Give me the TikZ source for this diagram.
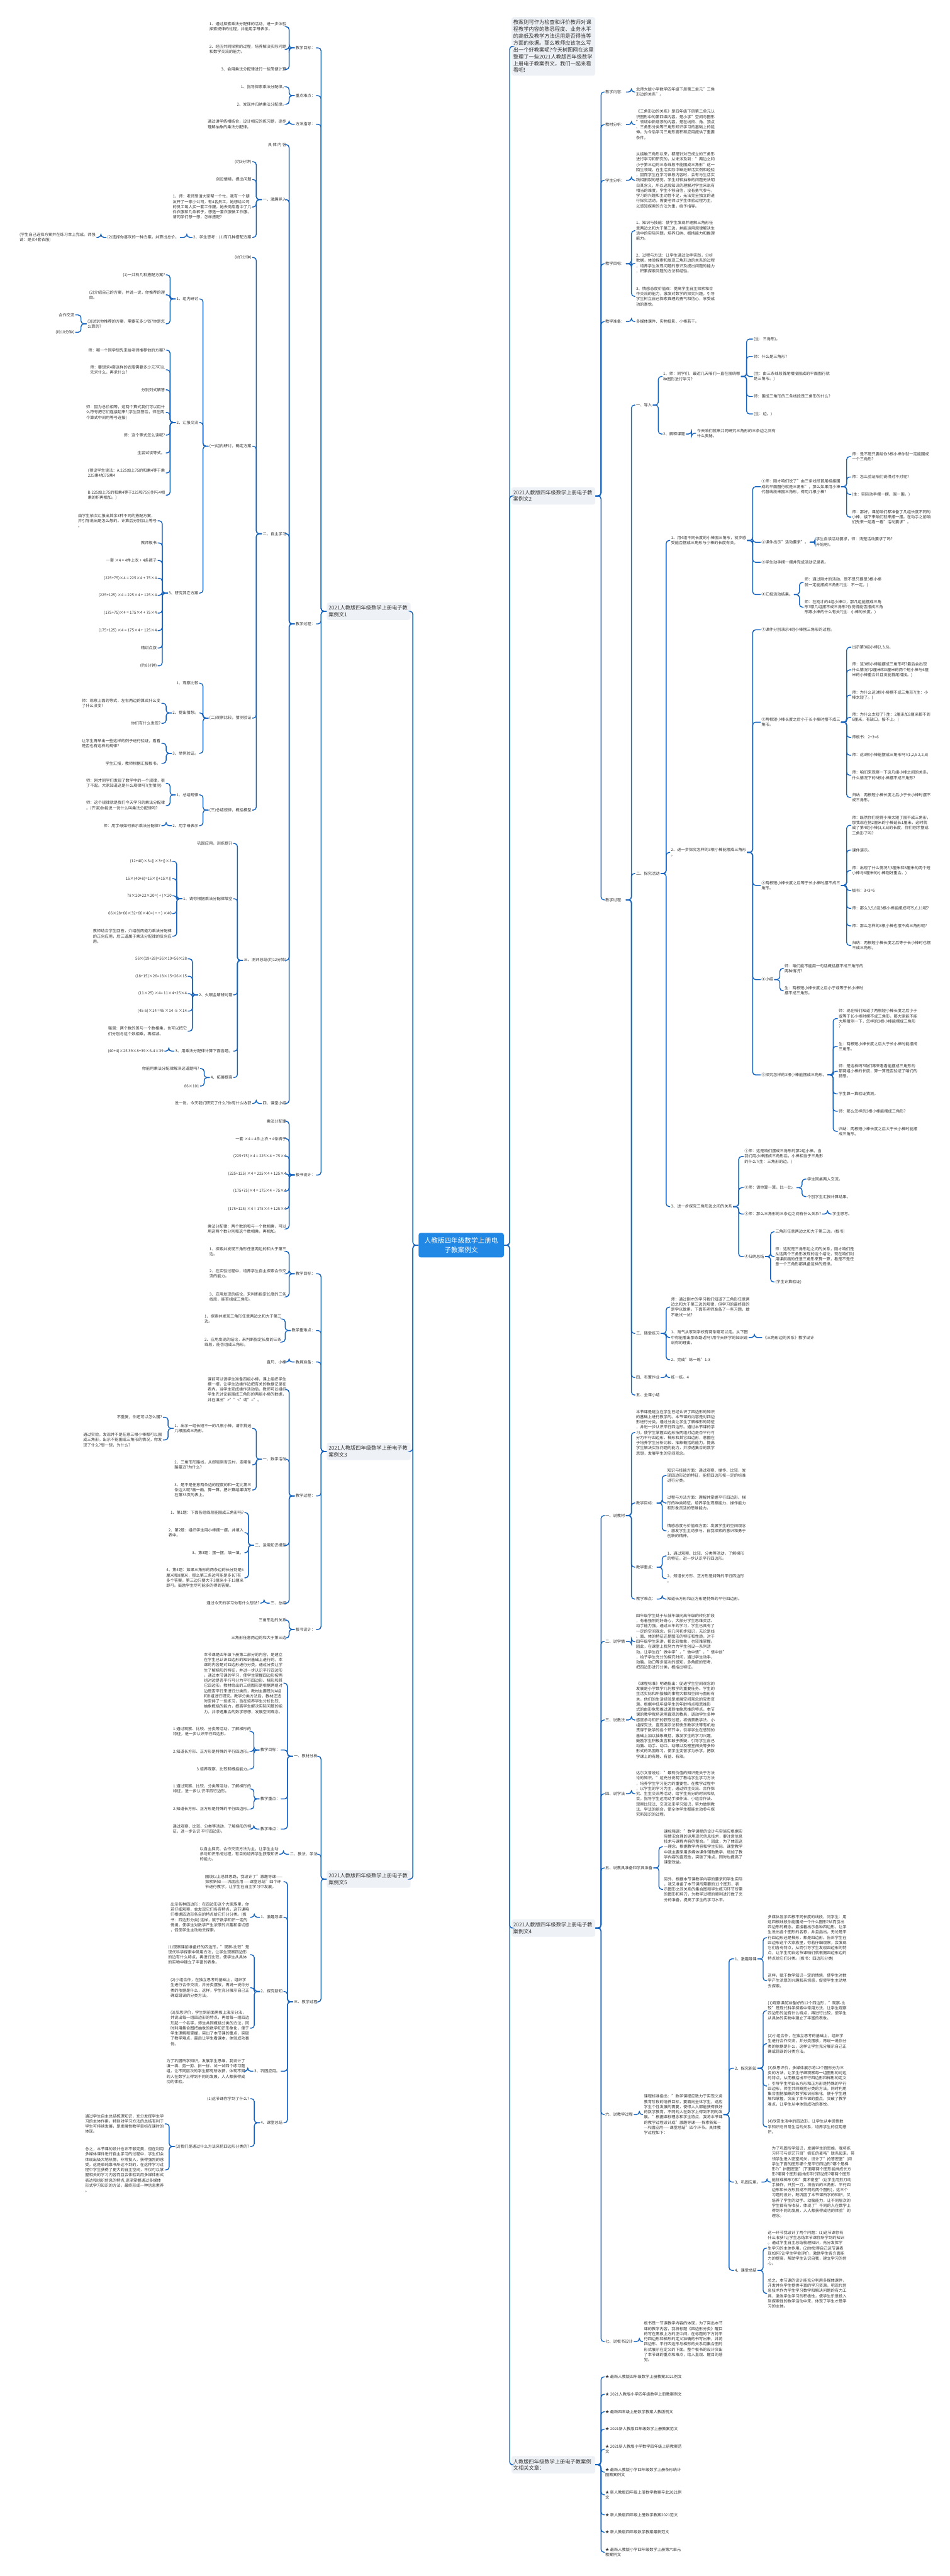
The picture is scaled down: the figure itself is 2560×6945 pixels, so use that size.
\documentclass[tikz,border=0pt]{standalone}
\usepackage{fontspec}
\setmainfont{Noto Sans CJK SC}
\definecolor{lnkc}{RGB}{22,100,190}
\definecolor{txt}{RGB}{51,51,51}
\definecolor{topicbg}{RGB}{238,241,245}
\definecolor{rootbg}{RGB}{33,136,230}
\begin{document}
\begin{tikzpicture}[x=0.5pt,y=-0.5pt,
 leaf/.style={font=\fontsize{5.3}{7}\selectfont,text=txt,inner sep=1pt,align=left},
 lt/.style={leaf,anchor=east},
 rt/.style={leaf,anchor=west},
 topic/.style={fill=topicbg,rounded corners=3pt,text=txt,font=\fontsize{7}{8.9}\selectfont,align=left,text width=108pt,inner xsep=2.5pt,inner ysep=4pt},
 root/.style={fill=rootbg,rounded corners=3pt,text=white,font=\fontsize{9}{12}\selectfont,align=center,minimum width=115pt,minimum height=33pt},
 lnk/.style={draw=lnkc,line width=1.2pt,rounded corners=4pt},
 ll/.style={lnk,to path={-- ++(-15,0) |- (\tikztotarget)}},
 rl/.style={lnk,to path={-- ++(15,0) |- (\tikztotarget)}}]
\fill[white] (0,0) rectangle (2560,6945);
\useasboundingbox (0,0) rectangle (2560,6945);
\node[root] (root) at (1243,3357) {人教版四年级数学上册电\\子教案例文};
\node[topic,anchor=west,font=\fontsize{7}{9.2}\selectfont] (intro) at (1378,125) {教案则可作为检查和评价教师对课\\程教学内容的熟悉程度、业务水平\\的高低及教学方法运用是否得当等\\方面的依据。那么教师应该怎么写\\出一个好教案呢?今天树图网在这里\\整理了一些2021人教版四年级数学\\上册电子教案例文，我们一起来看\\看吧!};
\node[topic,anchor=east] (L1) at (1107,1648) {2021人教版四年级数学上册电子教\\案例文1};
\node[topic,anchor=west] (R2) at (1378,1337) {2021人教版四年级数学上册电子教\\案例文2};
\node[topic,anchor=east] (L3) at (1107,3913) {2021人教版四年级数学上册电子教\\案例文3};
\node[topic,anchor=west] (R4) at (1378,5198) {2021人教版四年级数学上册电子教\\案例文4};
\node[topic,anchor=east] (L5) at (1107,5066) {2021人教版四年级数学上册电子教\\案例文5};
\node[topic,anchor=west] (R6) at (1378,6645) {人教版四年级数学上册电子教案例\\文相关文章：};
\draw[ll] (root.west) to (L1.east);
\draw[ll] (root.west) to (L3.east);
\draw[ll] (root.west) to (L5.east);
\draw[rl] (root.east) to (intro.west);
\draw[rl] (root.east) to (R2.west);
\draw[rl] (root.east) to (R4.west);
\draw[rl] (root.east) to (R6.west);

\node[lt] (L1a) at (852,129) {教学目标：};
\node[lt] (L1a1) at (774,72) {1、通过探索乘法分配律的活动，进一步体验\\探索规律的过程，并能用字母表示。};
\node[lt] (L1a2) at (774,133) {2、经历共同探索的过程，培养解决实际问题\\和数学交流的能力。};
\node[lt] (L1a3) at (774,187) {3、会用乘法分配律进行一些简便计算};
\node[lt] (L1b) at (852,258) {重点难点：};
\node[lt] (L1b1) at (774,234) {1、指导探索乘法分配律。};
\node[lt] (L1b2) at (774,281) {2、发现并归纳乘法分配律。};
\node[lt] (L1c) at (852,335) {方法指导：};
\node[lt] (L1c1) at (774,335) {通过讲学练相结合，设计相应的练习题，逐步\\理解抽象的乘法分配律。};
\node[lt] (L1d) at (852,1682) {教学过程：};
\node[lt] (L1d0) at (774,390) {具 体 内 容};
\node[lt] (L1d1) at (774,538) {一、激趣导入};
\node[lt] (L1d1a) at (680,436) {(约3分钟)};
\node[lt] (L1d1b) at (680,484) {创设情境，提出问题};
\node[lt] (L1d1c) at (680,558) {1、师：老师想请大家帮一个忙，我有一个朋\\友开了一家小公司，有4名员工，她想给公司\\的员工每人买一套工作服。她去商店看中了几\\件衣服和几条裤子，想选一套衣服做工作服。\\请同学们想一想，怎样搭配?};
\node[lt] (L1d1d) at (680,640) {2、学生思考：(1)有几种搭配方案};
\node[lt] (L1d1e) at (485,640) {(2)选择你喜欢的一种方案，并算出总价。};
\node[lt] (L1d1f) at (260,640) {(学生自己选择方案并在练习本上完成。师强\\调：是买4套衣服)};
\node[lt] (L1d2) at (774,1439) {二、自主学习};
\node[lt] (L1d2a) at (680,694) {(约7分钟)};
\node[lt] (L1d2b) at (680,1203) {(一)组内研讨，确定方案};
\node[lt] (L1d2b1) at (537,806) {1、组内研讨};
\node[lt] (L1d2b1a) at (447,741) {(1)一共有几种搭配方案?};
\node[lt] (L1d2b1b) at (447,795) {(2)介绍自己的方案，并说一说，你推荐的理\\由。};
\node[lt] (L1d2b1c) at (447,873) {(3)说说你推荐的方案，需要花多少钱?你是怎\\么算的?};
\node[lt] (L1d2b1c1) at (203,849) {合作交流};
\node[lt] (L1d2b1c2) at (203,896) {(约10分钟)};
\node[lt] (L1d2b2) at (537,1139) {2、汇报交流};
\node[lt] (L1d2b2a) at (447,944) {师：哪一个同学想先来给老师推荐他的方案?};
\node[lt] (L1d2b2b) at (447,997) {师：要想求4套这样的衣服需要多少元?可以\\先求什么，再求什么?};
\node[lt] (L1d2b2c) at (447,1051) {分别列式解答};
\node[lt] (L1d2b2d) at (447,1112) {师：因为总价相等，这两个算式我们可以用什\\么符号把它们连接起来?(学生回答后，师在两\\个算式中间用等号连接)};
\node[lt] (L1d2b2e) at (447,1173) {师：这个等式怎么读呢?};
\node[lt] (L1d2b2f) at (447,1221) {生尝试读等式。};
\node[lt] (L1d2b2g) at (447,1275) {(预设学生读法：A.225加上75的和乘4等于乘\\225乘4加75乘4};
\node[lt] (L1d2b2h) at (447,1335) {B.225加上75的和乘4等于225和75分别与4相\\乘的积再相加。)};
\node[lt] (L1d2b3) at (537,1599) {3、研究其它方案};
\node[lt] (L1d2b3a) at (425,1404) {由学生依次汇报出其余3种不同的搭配方案，\\并引导说出是怎么想的。计算后分别加上等号\\。};
\node[lt] (L1d2b3b) at (425,1464) {教师板书};
\node[lt] (L1d2b3c) at (425,1511) {一套 ×4 = 4件上衣 + 4条裤子};
\node[lt] (L1d2b3d) at (425,1559) {(225+75)×4 = 225×4 + 75×4};
\node[lt] (L1d2b3e) at (425,1605) {(225+125) ×4 = 225×4 + 125×4};
\node[lt] (L1d2b3f) at (425,1653) {(175+75)×4 = 175×4 + 75×4};
\node[lt] (L1d2b3g) at (425,1700) {(175+125) ×4 = 175×4 + 125×4};
\node[lt] (L1d2b3h) at (425,1747) {精讲点拨};
\node[lt] (L1d2b3i) at (425,1795) {(约8分钟)};
\node[lt] (L1d2c) at (680,1936) {(二)观察比较，猜测验证};
\node[lt] (L1d2c1) at (537,1842) {1、观察比较};
\node[lt] (L1d2c2) at (537,1922) {2、提出猜想。};
\node[lt] (L1d2c2a) at (435,1896) {师：观察上面的等式，左右两边的算式什么变\\了什么没变?};
\node[lt] (L1d2c2b) at (435,1950) {你们有什么发现?};
\node[lt] (L1d2c3) at (537,2031) {3、举例验证。};
\node[lt] (L1d2c3a) at (435,2004) {让学生再举出一些这样的例子进行验证，看看\\是否也有这样的规律?};
\node[lt] (L1d2c3b) at (435,2058) {学生汇报，教师根据汇报板书。};
\node[lt] (L1d2d) at (680,2184) {(三)总结规律，概括模型};
\node[lt] (L1d2d1) at (537,2143) {1、总结规律};
\node[lt] (L1d2d1a) at (447,2112) {师：刚才同学们发现了数学中的一个规律，很\\了不起。大家知道这是什么规律吗?(生猜测)};
\node[lt] (L1d2d1b) at (447,2172) {师：这个规律就是我们今天学习的乘法分配律\\。(齐读)你能说一说什么叫乘法分配律吗?};
\node[lt] (L1d2d2) at (537,2226) {2、用字母表示};
\node[lt] (L1d2d2a) at (435,2226) {师：用字母如何表示乘法分配律?};
\node[lt] (L1d3) at (774,2589) {三、测评总结(约12分钟)};
\node[lt] (L1d3a) at (629,2274) {巩固应用，训练提升};
\node[lt] (L1d3b) at (629,2423) {1、请你根据乘法分配律填空};
\node[lt] (L1d3b1) at (465,2322) {(12+40)×3=()×3+()×3};
\node[lt] (L1d3b2) at (465,2369) {15×(40+8)=15×()+15×()};
\node[lt] (L1d3b3) at (465,2415) {78×20+22×20=( + )×20};
\node[lt] (L1d3b4) at (465,2463) {66×28+66×32+66×40=( + + ) ×40};
\node[lt] (L1d3b5) at (465,2524) {教师结合学生回答，介绍前两道为乘法分配律\\的正向应用，后三道属于乘法分配律的反向应\\用。};
\node[lt] (L1d3c) at (629,2682) {2、火眼金睛辨对错};
\node[lt] (L1d3c1) at (506,2585) {56×(19+28)=56×19+56×28};
\node[lt] (L1d3c2) at (506,2632) {(18+15)×26=18×15+26×15};
\node[lt] (L1d3c3) at (506,2679) {(11×25) ×4= 11×4+25×4};
\node[lt] (L1d3c4) at (506,2726) {(45-5)×14 =45 ×14 -5 ×14};
\node[lt] (L1d3c5) at (506,2780) {强调：两个数的差与一个数相乘，也可以把它\\们分别与这个数相乘，再相减。};
\node[lt] (L1d3d) at (629,2834) {3、用乘法分配律计算下面各题。};
\node[lt] (L1d3d1) at (443,2834) {(40+4)×25 39×8+39×6-4×39};
\node[lt] (L1d3e) at (629,2905) {4、拓展提高};
\node[lt] (L1d3e1) at (539,2881) {你能用乘法分配律解决这道题吗?};
\node[lt] (L1d3e2) at (539,2928) {86×101};
\node[lt] (L1d4) at (774,2975) {四、课堂小结};
\node[lt] (L1d4a) at (680,2975) {说一说，今天我们研究了什么?你有什么收获};
\node[lt] (L1e) at (852,3168) {板书设计：};
\node[lt] (L1e1) at (774,3023) {乘法分配律};
\node[lt] (L1e2) at (774,3070) {一套 ×4 = 4件上衣 + 4条裤子};
\node[lt] (L1e3) at (774,3117) {(225+75)×4 = 225×4 + 75×4};
\node[lt] (L1e4) at (774,3165) {(225+125) ×4 = 225×4 + 125×4};
\node[lt] (L1e5) at (774,3211) {(175+75)×4 = 175×4 + 75×4};
\node[lt] (L1e6) at (774,3259) {(175+125) ×4 = 175×4 + 125×4};
\node[lt] (L1e7) at (774,3313) {乘法分配律：两个数的和与一个数相乘，可以\\用这两个数分别和这个数相乘，再相加。};
\draw[ll] (L1.west) to (L1a.east);
\draw[ll] (L1.west) to (L1b.east);
\draw[ll] (L1.west) to (L1c.east);
\draw[ll] (L1.west) to (L1d.east);
\draw[ll] (L1.west) to (L1e.east);
\draw[ll] (L1a.west) to (L1a1.east);
\draw[ll] (L1a.west) to (L1a2.east);
\draw[ll] (L1a.west) to (L1a3.east);
\draw[ll] (L1b.west) to (L1b1.east);
\draw[ll] (L1b.west) to (L1b2.east);
\draw[ll] (L1c.west) to (L1c1.east);
\draw[ll] (L1d.west) to (L1d0.east);
\draw[ll] (L1d.west) to (L1d1.east);
\draw[ll] (L1d.west) to (L1d2.east);
\draw[ll] (L1d.west) to (L1d3.east);
\draw[ll] (L1d.west) to (L1d4.east);
\draw[ll] (L1d1.west) to (L1d1a.east);
\draw[ll] (L1d1.west) to (L1d1b.east);
\draw[ll] (L1d1.west) to (L1d1c.east);
\draw[ll] (L1d1.west) to (L1d1d.east);
\draw[ll] (L1d1d.west) to (L1d1e.east);
\draw[ll] (L1d1e.west) to (L1d1f.east);
\draw[ll] (L1d2.west) to (L1d2a.east);
\draw[ll] (L1d2.west) to (L1d2b.east);
\draw[ll] (L1d2.west) to (L1d2c.east);
\draw[ll] (L1d2.west) to (L1d2d.east);
\draw[ll] (L1d2b.west) to (L1d2b1.east);
\draw[ll] (L1d2b.west) to (L1d2b2.east);
\draw[ll] (L1d2b.west) to (L1d2b3.east);
\draw[ll] (L1d2b1.west) to (L1d2b1a.east);
\draw[ll] (L1d2b1.west) to (L1d2b1b.east);
\draw[ll] (L1d2b1.west) to (L1d2b1c.east);
\draw[ll] (L1d2b1c.west) to (L1d2b1c1.east);
\draw[ll] (L1d2b1c.west) to (L1d2b1c2.east);
\draw[ll] (L1d2b2.west) to (L1d2b2a.east);
\draw[ll] (L1d2b2.west) to (L1d2b2b.east);
\draw[ll] (L1d2b2.west) to (L1d2b2c.east);
\draw[ll] (L1d2b2.west) to (L1d2b2d.east);
\draw[ll] (L1d2b2.west) to (L1d2b2e.east);
\draw[ll] (L1d2b2.west) to (L1d2b2f.east);
\draw[ll] (L1d2b2.west) to (L1d2b2g.east);
\draw[ll] (L1d2b2.west) to (L1d2b2h.east);
\draw[ll] (L1d2b3.west) to (L1d2b3a.east);
\draw[ll] (L1d2b3.west) to (L1d2b3b.east);
\draw[ll] (L1d2b3.west) to (L1d2b3c.east);
\draw[ll] (L1d2b3.west) to (L1d2b3d.east);
\draw[ll] (L1d2b3.west) to (L1d2b3e.east);
\draw[ll] (L1d2b3.west) to (L1d2b3f.east);
\draw[ll] (L1d2b3.west) to (L1d2b3g.east);
\draw[ll] (L1d2b3.west) to (L1d2b3h.east);
\draw[ll] (L1d2b3.west) to (L1d2b3i.east);
\draw[ll] (L1d2c.west) to (L1d2c1.east);
\draw[ll] (L1d2c.west) to (L1d2c2.east);
\draw[ll] (L1d2c.west) to (L1d2c3.east);
\draw[ll] (L1d2c2.west) to (L1d2c2a.east);
\draw[ll] (L1d2c2.west) to (L1d2c2b.east);
\draw[ll] (L1d2c3.west) to (L1d2c3a.east);
\draw[ll] (L1d2c3.west) to (L1d2c3b.east);
\draw[ll] (L1d2d.west) to (L1d2d1.east);
\draw[ll] (L1d2d.west) to (L1d2d2.east);
\draw[ll] (L1d2d1.west) to (L1d2d1a.east);
\draw[ll] (L1d2d1.west) to (L1d2d1b.east);
\draw[ll] (L1d2d2.west) to (L1d2d2a.east);
\draw[ll] (L1d3.west) to (L1d3a.east);
\draw[ll] (L1d3.west) to (L1d3b.east);
\draw[ll] (L1d3.west) to (L1d3c.east);
\draw[ll] (L1d3.west) to (L1d3d.east);
\draw[ll] (L1d3.west) to (L1d3e.east);
\draw[ll] (L1d3b.west) to (L1d3b1.east);
\draw[ll] (L1d3b.west) to (L1d3b2.east);
\draw[ll] (L1d3b.west) to (L1d3b3.east);
\draw[ll] (L1d3b.west) to (L1d3b4.east);
\draw[ll] (L1d3b.west) to (L1d3b5.east);
\draw[ll] (L1d3c.west) to (L1d3c1.east);
\draw[ll] (L1d3c.west) to (L1d3c2.east);
\draw[ll] (L1d3c.west) to (L1d3c3.east);
\draw[ll] (L1d3c.west) to (L1d3c4.east);
\draw[ll] (L1d3c.west) to (L1d3c5.east);
\draw[ll] (L1d3d.west) to (L1d3d1.east);
\draw[ll] (L1d3e.west) to (L1d3e1.east);
\draw[ll] (L1d3e.west) to (L1d3e2.east);
\draw[ll] (L1d4.west) to (L1d4a.east);
\draw[ll] (L1e.west) to (L1e1.east);
\draw[ll] (L1e.west) to (L1e2.east);
\draw[ll] (L1e.west) to (L1e3.east);
\draw[ll] (L1e.west) to (L1e4.east);
\draw[ll] (L1e.west) to (L1e5.east);
\draw[ll] (L1e.west) to (L1e6.east);
\draw[ll] (L1e.west) to (L1e7.east);

\node[lt] (L3a) at (852,3434) {教学目标：};
\node[lt] (L3a1) at (774,3374) {1、探索并发现三角形任意两边的和大于第三\\边。};
\node[lt] (L3a2) at (774,3434) {2、在实验过程中，培养学生自主探索合作交\\流的能力。};
\node[lt] (L3a3) at (774,3496) {3、应用发现的结论，来判断指定长度的三条\\线段，能否组成三角形。};
\node[lt] (L3b) at (852,3587) {教学重难点：};
\node[lt] (L3b1) at (761,3556) {1、探索并发现三角形任意两边之和大于第三\\边。};
\node[lt] (L3b2) at (761,3618) {2、应用发现的结论，来判断指定长度的三条\\线段，能否组成三角形。};
\node[lt] (L3c) at (852,3672) {教具准备：};
\node[lt] (L3c1) at (774,3672) {直尺、小棒};
\node[lt] (L3d) at (852,4033) {教学过程：};
\node[lt] (L3d1) at (774,3746) {课前可以请学生准备四组小棒，课上组织学生\\摆一摆，让学生边操作边把有关的数据记录在\\表内。当学生完成操作活动后，教师可以组织\\学生先讨论能围成三角形的两组小棒的数据，\\并在填出">""<"或"="。};
\node[lt] (L3d2) at (774,3934) {一、数学活动};
\node[lt] (L3d2a) at (680,3851) {1、出示一组长短不一的几根小棒，请你挑选\\几根围成三角形。};
\node[lt] (L3d2a1) at (439,3821) {不重复，你还可以怎么围?};
\node[lt] (L3d2a2) at (439,3882) {通过实验，发现并不是任意三根小棒都可以围\\成三角形。出示不能围成三角形的情况，你发\\现了什么?想一想，为什么?};
\node[lt] (L3d2b) at (680,3949) {2、三角形形路线，从邮局到杏云村，走哪条\\路最近?为什么?};
\node[lt] (L3d2c) at (680,4017) {3、是不是任意两条边的程度的和一定比第三\\条边大呢?画一画，算一算。把计算结果填写\\在第33页的表上。};
\node[lt] (L3d3) at (774,4166) {二、运用知识模型};
\node[lt] (L3d3a) at (659,4078) {1、第1题：下面各组线段能围成三角形吗?};
\node[lt] (L3d3b) at (659,4132) {2、第2题：组织学生用小棒摆一摆，并填入\\表中。};
\node[lt] (L3d3c) at (659,4186) {3、第3题：摆一摆，填一填。};
\node[lt] (L3d3d) at (659,4254) {4、第4题：如果三角形的两条边的长分别是5\\厘米和8厘米，那么第三条边可能是多长?有\\多个答案，第三边只要大于3厘米小于13厘米\\即可。鼓励学生尽可能多的得到答案。};
\node[lt] (L3d4) at (774,4322) {三、总结};
\node[lt] (L3d4a) at (702,4322) {通过今天的学习你有什么想法?};
\node[lt] (L3e) at (852,4393) {板书设计：};
\node[lt] (L3e1) at (774,4368) {三角形边的关系};
\node[lt] (L3e2) at (774,4416) {三角形任意两边的和大于第三边};
\draw[ll] (L3.west) to (L3a.east);
\draw[ll] (L3.west) to (L3b.east);
\draw[ll] (L3.west) to (L3c.east);
\draw[ll] (L3.west) to (L3d.east);
\draw[ll] (L3.west) to (L3e.east);
\draw[ll] (L3a.west) to (L3a1.east);
\draw[ll] (L3a.west) to (L3a2.east);
\draw[ll] (L3a.west) to (L3a3.east);
\draw[ll] (L3b.west) to (L3b1.east);
\draw[ll] (L3b.west) to (L3b2.east);
\draw[ll] (L3c.west) to (L3c1.east);
\draw[ll] (L3d.west) to (L3d1.east);
\draw[ll] (L3d.west) to (L3d2.east);
\draw[ll] (L3d.west) to (L3d3.east);
\draw[ll] (L3d.west) to (L3d4.east);
\draw[ll] (L3d2.west) to (L3d2a.east);
\draw[ll] (L3d2.west) to (L3d2b.east);
\draw[ll] (L3d2.west) to (L3d2c.east);
\draw[ll] (L3d2a.west) to (L3d2a1.east);
\draw[ll] (L3d2a.west) to (L3d2a2.east);
\draw[ll] (L3d3.west) to (L3d3a.east);
\draw[ll] (L3d3.west) to (L3d3b.east);
\draw[ll] (L3d3.west) to (L3d3c.east);
\draw[ll] (L3d3.west) to (L3d3d.east);
\draw[ll] (L3d4.west) to (L3d4a.east);
\draw[ll] (L3e.west) to (L3e1.east);
\draw[ll] (L3e.west) to (L3e2.east);

\node[lt] (L5a) at (858,4735) {一、教材分析};
\node[lt] (L5a1) at (764,4538) {本节课是四年级下册第二部分的内容，是建立\\在学生已认识四边形的知识基础上进行的。本\\课的内容是对四边形进行分类，通过分类让学\\生了解梯形的特征，并进一步认识平行四边形\\。通过本节课的学习，使学生掌握四边形按两\\组对边是否平行可分为平行四边形、梯形和其\\它四边形。教材给出的三组图形是根据两组对\\边是否平行来进行分类的，教材主要是对A组\\和B组进行研究。教学分类方法后，教材还适\\时安排了一些练习，旨在培养学生分析比较、\\抽象概括的能力，提高学生解决实际问题的能\\力，并渗透集合的数学思想，发展空间观念。};
\node[lt] (L5a2) at (757,4718) {教学目标：};
\node[lt] (L5a2a) at (679,4668) {1.通过观察、比较、分类等活动，了解梯形的\\特征，进一步认识平行四边形。};
\node[lt] (L5a2b) at (679,4722) {2.知道长方形、正方形是特殊的平行四边形。};
\node[lt] (L5a2c) at (679,4769) {3.培养观察、比较和概括能力。};
\node[lt] (L5a3) at (757,4850) {教学重点：};
\node[lt] (L5a3a) at (679,4823) {1.通过观察、比较、分类等活动，了解梯形的\\特征，进一步认 识平四行边形。};
\node[lt] (L5a3b) at (679,4877) {2.知道长方形、正方形是特殊的平行四边形。};
\node[lt] (L5a4) at (757,4931) {教学难点：};
\node[lt] (L5a4a) at (680,4931) {通过观察、比较、分类等活动，了解梯形的特\\征，进一步认识 平行四边形。};
\node[lt] (L5b) at (858,4999) {二、教法、学法};
\node[lt] (L5b1) at (753,4999) {以自主探究、合作交流方法为主，让学生主动\\参与知识形成过程，有目的培养学生获取知识\\的能力。};
\node[lt] (L5c) at (858,5397) {三、教学过程};
\node[lt] (L5c1) at (764,5073) {围绕以上总体思路，我设计了"激趣导课——\\探索新知——巩固应用——课堂总结"四个环\\节进行教学。让学生在自主学习中发展。};
\node[lt] (L5c2) at (764,5169) {1、激趣导课};
\node[lt] (L5c2a) at (674,5169) {出示各种四边形：在四边形这个大家族里，你\\若仔细观察，会发现它们各有特点，这节课咱\\们根据四边形各自的特点给它们分分类。(板\\书：四边形分类) 这样，赋于数学知识一定的\\情境，使学生对数学产生浓厚的兴趣和亲切感\\，促使学生主动地去探索。};
\node[lt] (L5c3) at (764,5369) {2、探究新知};
\node[lt] (L5c3a) at (674,5270) {(1)观察课前准备好的四边形，"观察-比较"是\\现代科学探索中常用方法，让学生观察四边形\\的边有什么特点，再进行比较，使学生从具体\\的实物中建立了丰富的表象。};
\node[lt] (L5c3b) at (674,5359) {(2)小组合作，在独立思考的基础上，组织学\\生进行合作交流，并分类摆放，再说一说你分\\类的依据是什么，这样，学生充分展示自己正\\确或错误的分类方法。};
\node[lt] (L5c3c) at (674,5468) {(3)反思评价，学生到前面黑板上演示分法，\\并说出每一组四边形的特点，再给每一组四边\\形起一个名字，师生共同概括分类的方法，同\\时利用集合图把抽象的数学知识形象化，便于\\学生理解和掌握，突出了本节课的重点，突破\\了教学难点，最后让学生看课本，体验成功喜\\悦。};
\node[lt] (L5c4) at (757,5584) {3、巩固应用。};
\node[lt] (L5c4a) at (663,5584) {为了巩固所学知识，发展学生思维，我设计了\\填一填、剪一剪、拼一拼、试一试四个练习题\\组，让不同层次的学生都有所收获，体现不同\\的人在数学上得到不同的发展，人人都获得成\\功的体验。};
\node[lt] (L5c5) at (764,5723) {4、课堂总结};
\node[lt] (L5c5a) at (674,5658) {(1)这节课你学到了什么?};
\node[lt] (L5c5b) at (674,5787) {(2)我们是通过什么方法来把四边形分类的?};
\node[lt] (L5c5b1) at (444,5726) {通过学生自主总结梳理知识，充分发挥学生学\\习的主体作用。特别对学习方法的总结有利于\\学生可持续发展，是发展性教学目标在课时的\\体现。};
\node[lt] (L5c5b2) at (444,5850) {总之，本节课的设计也许不够完美，但在利用\\多媒体课件进行自主学习的过程中，学生们会\\体现出极大地热情，非常投入，获得强烈的感\\受。这是单纯靠书所达不到的，在这种学习过\\程中学生获得了更大的自主空间，不仅可以掌\\握相关的学习内容而且会体验到用多媒体形式\\表达和组织信息的特点,逐渐掌握通过多媒体\\形式学习知识的方法，最终形成一种信息素养\\。};
\draw[ll] (L5.west) to (L5a.east);
\draw[ll] (L5.west) to (L5b.east);
\draw[ll] (L5.west) to (L5c.east);
\draw[ll] (L5a.west) to (L5a1.east);
\draw[ll] (L5a.west) to (L5a2.east);
\draw[ll] (L5a.west) to (L5a3.east);
\draw[ll] (L5a.west) to (L5a4.east);
\draw[ll] (L5a2.west) to (L5a2a.east);
\draw[ll] (L5a2.west) to (L5a2b.east);
\draw[ll] (L5a2.west) to (L5a2c.east);
\draw[ll] (L5a3.west) to (L5a3a.east);
\draw[ll] (L5a3.west) to (L5a3b.east);
\draw[ll] (L5a4.west) to (L5a4a.east);
\draw[ll] (L5b.west) to (L5b1.east);
\draw[ll] (L5c.west) to (L5c1.east);
\draw[ll] (L5c.west) to (L5c2.east);
\draw[ll] (L5c.west) to (L5c3.east);
\draw[ll] (L5c.west) to (L5c4.east);
\draw[ll] (L5c.west) to (L5c5.east);
\draw[ll] (L5c2.west) to (L5c2a.east);
\draw[ll] (L5c3.west) to (L5c3a.east);
\draw[ll] (L5c3.west) to (L5c3b.east);
\draw[ll] (L5c3.west) to (L5c3c.east);
\draw[ll] (L5c4.west) to (L5c4a.east);
\draw[ll] (L5c5.west) to (L5c5a.east);
\draw[ll] (L5c5.west) to (L5c5b.east);
\draw[ll] (L5c5b.west) to (L5c5b1.east);
\draw[ll] (L5c5b.west) to (L5c5b2.east);

\node[rt] (R2a) at (1629,248) {教学内容：};
\node[rt] (R2a1) at (1712,248) {北师大版小学数学四年级下册第二单元"三角\\形边的关系"。};
\node[rt] (R2b) at (1629,336) {教材分析：};
\node[rt] (R2b1) at (1712,336) {《三角形边的关系》是四年级下册第二单元认\\识图形中的第四课内容，是小学"空间与图形\\"领域中新增添的内容，是在线段、角、顶点\\、三角形分类等三角形知识学习的基础上的延\\伸。为今后学习三角形面积和应用提供了重要\\条件。};
\node[rt] (R2c) at (1629,486) {学生分析：};
\node[rt] (R2c1) at (1712,486) {从接触三角形以来，都是针对已成立的三角形\\进行学习和研究的，从未涉及到："两边之和\\小于第三边的三条线段不能围成三角形"这一\\陌生领域，在生活实际中缺乏鲜活实例和经验\\，因而学生在学习该段内容时，会有与生活实\\践相割裂的感觉，学生对较抽象的问题无法明\\白其含义，所以这段知识的理解对学生来说有\\相当的难度，学生不够自信，没有勇气参与，\\学习的兴趣和主动性不足，无法完全独立的进\\行探究活动，需要老师以学生体验过程为主，\\以感知探索的方法为重，给予指导。};
\node[rt] (R2d) at (1629,711) {教学目标：};
\node[rt] (R2d1) at (1712,622) {1、知识与技能：使学生发现并理解三角形任\\意两边之和大于第三边，并能运用规律解决生\\活中的实际问题，培养归纳、概括能力和推理\\能力。};
\node[rt] (R2d2) at (1712,710) {2、过程与方法：让学生通过动手实践，分析\\数据，体验探索和发现三角形边的关系的过程\\，培养学生发现问题的意识及提出问题的能力\\，积累探索问题的方法和经验。};
\node[rt] (R2d3) at (1712,799) {3、情感态度价值观：提高学生自主探索和合\\作交流的能力，激发对数学的探究兴趣，引导\\学生树立自己探索真理的勇气和信心，享受成\\功的喜悦。};
\node[rt] (R2e) at (1629,867) {教学准备：};
\node[rt] (R2e1) at (1712,867) {多媒体课件、实物投影、小棒若干。};
\node[rt] (R2f) at (1629,2426) {教学过程：};
\node[rt] (R2f1) at (1712,1092) {一、导入};
\node[rt] (R2f1a) at (1785,1015) {1、师：同学们，最近几天咱们一直在围绕哪\\种图形进行学习?};
\node[rt] (R2f1a1) at (2029,914) {(生：三角形)。};
\node[rt] (R2f1a2) at (2029,961) {师：什么是三角形?};
\node[rt] (R2f1a3) at (2029,1015) {(生：由三条线段首尾相接围成的平面图行就\\是三角形。)};
\node[rt] (R2f1a4) at (2029,1069) {师：围成三角形的三条线段是三角形的什么?};
\node[rt] (R2f1a5) at (2029,1116) {(生：边。)};
\node[rt] (R2f1b) at (1785,1170) {2、解释课题};
\node[rt] (R2f1b1) at (1876,1168) {今天咱们就来共同研究三角形的三条边之间有\\什么奥秘。};
\node[rt] (R2f2) at (1712,2355) {二、探究活动};
\node[rt] (R2f2a) at (1806,1457) {1、用4组不同长度的小棒围三角形，初步感\\受能否摆成三角形与小棒的长度有关。};
\node[rt] (R2f2a1) at (2050,1312) {①师：刚才咱们说了"由三条线段首尾相接围\\成的平面图行就是三角形"，那么如果用小棒\\代替线段来围三角形，得用几根小棒?};
\node[rt] (R2f2a1a) at (2294,1231) {师：是不是只要给你3根小棒你就一定能围成\\一个三角形?};
\node[rt] (R2f2a1b) at (2294,1286) {师：怎么验证咱们说得对不对呢?};
\node[rt] (R2f2a1c) at (2294,1333) {(生：实际动手摆一摆、围一围。)};
\node[rt] (R2f2a1d) at (2294,1394) {师：那好，课前咱们都准备了几组长度不同的\\小棒，接下来咱们就来摆一摆。在动手之前咱\\们先来一起看一看"活动要求"。};
\node[rt] (R2f2a2) at (2050,1462) {②课件出示"活动要求"。};
\node[rt] (R2f2a2a) at (2197,1461) {学生自读活动要求，师：清楚活动要求了吗?\\开始吧!。};
\node[rt] (R2f2a3) at (2050,1516) {③学生动手摆一摆并完成活动记录表。};
\node[rt] (R2f2a4) at (2050,1603) {④汇报活动结果。};
\node[rt] (R2f2a4a) at (2166,1570) {师：通过刚才的活动，是不是只要是3根小棒\\就一定能摆成三角形?(生：不一定。)};
\node[rt] (R2f2a4b) at (2166,1637) {师：在刚才的4组小棒中，那几组能摆成三角\\形?哪几组摆不成三角形?你觉得能否摆成三角\\形跟小棒的什么有关?(生：小棒的长度。)};
\node[rt] (R2f2b) at (1806,2298) {2、进一步探究怎样的3根小棒能摆成三角形\\。};
\node[rt] (R2f2b1) at (2050,1698) {①课件分别演示4组小棒摆三角形的过程。};
\node[rt] (R2f2b2) at (2050,1947) {②两根短小棒长度之后小于长小棒时摆不成三\\角形。};
\node[rt] (R2f2b2a) at (2294,1745) {出示第3组小棒(2,3,6)。};
\node[rt] (R2f2b2b) at (2294,1806) {师：这3根小棒能摆成三角形吗?最后会出现\\什么情况?(2厘米和3厘米的两个短小棒与6厘\\米的小棒重合并且没能首尾相接。)};
\node[rt] (R2f2b2c) at (2294,1874) {师：为什么这3根小棒摆不成三角形?(生：小\\棒太短了。)};
\node[rt] (R2f2b2d) at (2294,1934) {师：为什么太短了?(生：2厘米加3厘米都不到\\6厘米，有缺口，接不上。)};
\node[rt] (R2f2b2e) at (2294,1988) {师板书：2+3<6};
\node[rt] (R2f2b2f) at (2294,2036) {师：这3根小棒能摆成三角形吗?(1,2,5 2,2,8)};
\node[rt] (R2f2b2g) at (2294,2090) {师：咱们来观察一下这几组小棒之间的关系，\\什么情况下的3根小棒摆不成三角形?};
\node[rt] (R2f2b2h) at (2294,2150) {归纳：两根短小棒长度之后小于长小棒时摆不\\成三角形。};
\node[rt] (R2f2b3) at (2050,2387) {③两根短小棒长度之后等于长小棒时摆不成三\\角形。};
\node[rt] (R2f2b3a) at (2294,2225) {师：既然你们觉得小棒太短了围不成三角形，\\那我现在把2厘米的小棒延长1厘米，这时就\\成了第4组小棒(3,3,6)的长度，你们刚才摆成\\三角形了吗?};
\node[rt] (R2f2b3b) at (2294,2292) {课件演示。};
\node[rt] (R2f2b3c) at (2294,2347) {师：出现了什么情况?(3厘米和3厘米的两个短\\小棒与6厘米的小棒刚好重合。)};
\node[rt] (R2f2b3d) at (2294,2401) {板书：3+3=6};
\node[rt] (R2f2b3e) at (2294,2449) {师：那么3,5,8这3根小棒能摆成吗?5,6,11呢?};
\node[rt] (R2f2b3f) at (2294,2496) {师：那么怎样的3根小棒也摆不成三角形呢?};
\node[rt] (R2f2b3g) at (2294,2549) {归纳：两根短小棒长度之后等于长小棒时也摆\\不成三角形。};
\node[rt] (R2f2b4) at (2050,2641) {④小结};
\node[rt] (R2f2b4a) at (2112,2611) {师：咱们能不能用一句话概括摆不成三角形的\\两种情况?};
\node[rt] (R2f2b4b) at (2112,2671) {生：两根短小棒长度之后小于或等于长小棒时\\摆不成三角形。};
\node[rt] (R2f2b5) at (2050,2898) {⑤探究怎样的3根小棒能摆成三角形。};
\node[rt] (R2f2b5a) at (2258,2746) {师：现在咱们知道了两根短小棒长度之后小于\\或等于长小棒时摆不成三角形，那大家能不能\\大胆猜测一下，怎样的3根小棒能摆成三角形\\?};
\node[rt] (R2f2b5b) at (2258,2821) {生：两根短小棒长度之后大于长小棒时能摆成\\三角形。};
\node[rt] (R2f2b5c) at (2258,2888) {师：是这样吗?咱们再来看看能摆成三角形的\\那两组小棒的长度，算一算是否验证了咱们的\\猜想。};
\node[rt] (R2f2b5d) at (2258,2949) {学生算一算验证猜测。};
\node[rt] (R2f2b5e) at (2258,2996) {师：那么怎样的3根小棒能摆成三角形?};
\node[rt] (R2f2b5f) at (2258,3050) {归纳：两根短小棒长度之后大于长小棒时能摆\\成三角形。};
\node[rt] (R2f2c) at (1806,3253) {3、进一步探究三角形边之间的关系};
\node[rt] (R2f2c1) at (2004,3118) {①师：这是咱们摆成三角形的那2组小棒。当\\我们用小棒摆成三角形后，小棒相当于三角形\\的什么?(生：三角形的边。)};
\node[rt] (R2f2c2) at (2004,3202) {②师：请你算一算，比一比。};
\node[rt] (R2f2c2a) at (2173,3179) {学生同桌两人交流。};
\node[rt] (R2f2c2b) at (2173,3226) {个别学生汇报计算结果。};
\node[rt] (R2f2c3) at (2004,3273) {③师：那么三角形的三条边之间有什么关系?};
\node[rt] (R2f2c3a) at (2241,3273) {学生思考。};
\node[rt] (R2f2c4) at (2004,3388) {④归纳总结};
\node[rt] (R2f2c4a) at (2087,3321) {三角形任意两边之和大于第三边。(板书)};
\node[rt] (R2f2c4b) at (2087,3388) {师：这就是三角形边之间的关系，刚才咱们是\\从这两个三角形发现的这个结论，现在咱们利\\用课前画的任意三角形来算一算，看是不是任\\意一个三角形都具备这样的规律。};
\node[rt] (R2f2c4c) at (2087,3456) {(学生计算验证)};
\node[rt] (R2f3) at (1712,3595) {三、随堂练习};
\node[rt] (R2f3a) at (1806,3524) {师：通过刚才的学习我们知道了三角形任意两\\边之和大于第三边的规律，但学习的最终目的\\是学以致用。下面陈老师准备了一些习题，敢\\不敢试一试?};
\node[rt] (R2f3b) at (1806,3606) {1、淘气从家到学校有两条路可以走。从下图\\中你能看出那条路近吗?用今天所学的知识说\\说你的理由。};
\node[rt] (R2f3b1) at (2054,3606) {《三角形边的关系》教学设计};
\node[rt] (R2f3c) at (1806,3666) {2、完成"练一练"1-3};
\node[rt] (R2f4) at (1712,3714) {四、布置作业};
\node[rt] (R2f4a) at (1806,3714) {练一练。4};
\node[rt] (R2f5) at (1712,3761) {五、全课小结};
\draw[rl] (R2.east) to (R2a.west);
\draw[rl] (R2.east) to (R2b.west);
\draw[rl] (R2.east) to (R2c.west);
\draw[rl] (R2.east) to (R2d.west);
\draw[rl] (R2.east) to (R2e.west);
\draw[rl] (R2.east) to (R2f.west);
\draw[rl] (R2a.east) to (R2a1.west);
\draw[rl] (R2b.east) to (R2b1.west);
\draw[rl] (R2c.east) to (R2c1.west);
\draw[rl] (R2d.east) to (R2d1.west);
\draw[rl] (R2d.east) to (R2d2.west);
\draw[rl] (R2d.east) to (R2d3.west);
\draw[rl] (R2e.east) to (R2e1.west);
\draw[rl] (R2f.east) to (R2f1.west);
\draw[rl] (R2f.east) to (R2f2.west);
\draw[rl] (R2f.east) to (R2f3.west);
\draw[rl] (R2f.east) to (R2f4.west);
\draw[rl] (R2f.east) to (R2f5.west);
\draw[rl] (R2f1.east) to (R2f1a.west);
\draw[rl] (R2f1.east) to (R2f1b.west);
\draw[rl] (R2f1a.east) to (R2f1a1.west);
\draw[rl] (R2f1a.east) to (R2f1a2.west);
\draw[rl] (R2f1a.east) to (R2f1a3.west);
\draw[rl] (R2f1a.east) to (R2f1a4.west);
\draw[rl] (R2f1a.east) to (R2f1a5.west);
\draw[rl] (R2f1b.east) to (R2f1b1.west);
\draw[rl] (R2f2.east) to (R2f2a.west);
\draw[rl] (R2f2.east) to (R2f2b.west);
\draw[rl] (R2f2.east) to (R2f2c.west);
\draw[rl] (R2f2a.east) to (R2f2a1.west);
\draw[rl] (R2f2a.east) to (R2f2a2.west);
\draw[rl] (R2f2a.east) to (R2f2a3.west);
\draw[rl] (R2f2a.east) to (R2f2a4.west);
\draw[rl] (R2f2a1.east) to (R2f2a1a.west);
\draw[rl] (R2f2a1.east) to (R2f2a1b.west);
\draw[rl] (R2f2a1.east) to (R2f2a1c.west);
\draw[rl] (R2f2a1.east) to (R2f2a1d.west);
\draw[rl] (R2f2a2.east) to (R2f2a2a.west);
\draw[rl] (R2f2a4.east) to (R2f2a4a.west);
\draw[rl] (R2f2a4.east) to (R2f2a4b.west);
\draw[rl] (R2f2b.east) to (R2f2b1.west);
\draw[rl] (R2f2b.east) to (R2f2b2.west);
\draw[rl] (R2f2b.east) to (R2f2b3.west);
\draw[rl] (R2f2b.east) to (R2f2b4.west);
\draw[rl] (R2f2b.east) to (R2f2b5.west);
\draw[rl] (R2f2b2.east) to (R2f2b2a.west);
\draw[rl] (R2f2b2.east) to (R2f2b2b.west);
\draw[rl] (R2f2b2.east) to (R2f2b2c.west);
\draw[rl] (R2f2b2.east) to (R2f2b2d.west);
\draw[rl] (R2f2b2.east) to (R2f2b2e.west);
\draw[rl] (R2f2b2.east) to (R2f2b2f.west);
\draw[rl] (R2f2b2.east) to (R2f2b2g.west);
\draw[rl] (R2f2b2.east) to (R2f2b2h.west);
\draw[rl] (R2f2b3.east) to (R2f2b3a.west);
\draw[rl] (R2f2b3.east) to (R2f2b3b.west);
\draw[rl] (R2f2b3.east) to (R2f2b3c.west);
\draw[rl] (R2f2b3.east) to (R2f2b3d.west);
\draw[rl] (R2f2b3.east) to (R2f2b3e.west);
\draw[rl] (R2f2b3.east) to (R2f2b3f.west);
\draw[rl] (R2f2b3.east) to (R2f2b3g.west);
\draw[rl] (R2f2b4.east) to (R2f2b4a.west);
\draw[rl] (R2f2b4.east) to (R2f2b4b.west);
\draw[rl] (R2f2b5.east) to (R2f2b5a.west);
\draw[rl] (R2f2b5.east) to (R2f2b5b.west);
\draw[rl] (R2f2b5.east) to (R2f2b5c.west);
\draw[rl] (R2f2b5.east) to (R2f2b5d.west);
\draw[rl] (R2f2b5.east) to (R2f2b5e.west);
\draw[rl] (R2f2b5.east) to (R2f2b5f.west);
\draw[rl] (R2f2c.east) to (R2f2c1.west);
\draw[rl] (R2f2c.east) to (R2f2c2.west);
\draw[rl] (R2f2c.east) to (R2f2c3.west);
\draw[rl] (R2f2c.east) to (R2f2c4.west);
\draw[rl] (R2f2c2.east) to (R2f2c2a.west);
\draw[rl] (R2f2c2.east) to (R2f2c2b.west);
\draw[rl] (R2f2c3.east) to (R2f2c3a.west);
\draw[rl] (R2f2c4.east) to (R2f2c4a.west);
\draw[rl] (R2f2c4.east) to (R2f2c4b.west);
\draw[rl] (R2f2c4.east) to (R2f2c4c.west);
\draw[rl] (R2f3.east) to (R2f3a.west);
\draw[rl] (R2f3.east) to (R2f3b.west);
\draw[rl] (R2f3.east) to (R2f3c.west);
\draw[rl] (R2f3b.east) to (R2f3b1.west);
\draw[rl] (R2f4.east) to (R2f4a.west);

\node[rt] (R4a) at (1629,4086) {一、说教材};
\node[rt] (R4a1) at (1712,3862) {本节课是建立在学生已经认识了四边形的知识\\的基础上进行教学的。本节课的内容是对四边\\形进行分类，通过分类让学生了解梯形的特征\\，并进一步认识平行四边形。通过本节课的学\\习，使学生掌握四边形按两组对边是否平行可\\分为平行四边形、梯形和其它四边形，意图在\\于培养学生分析比较、抽象概括的能力，提高\\学生解决实际问题的能力，并渗透集合的数学\\思想，发展学生的空间观念。};
\node[rt] (R4a2) at (1712,4052) {教学目标：};
\node[rt] (R4a2a) at (1796,3978) {知识与技能方面：通过观察、操作、比较，发\\现四边形边的特征，能把四边形按一定的标准\\进行分类。};
\node[rt] (R4a2b) at (1796,4052) {过程与方法方面：理解并掌握平行四边形、梯\\形的种类特征，培养学生观察能力、操作能力\\和形象灵活的思维能力。};
\node[rt] (R4a2c) at (1796,4127) {情感态度与价值观方面：发展学生的空间观念\\，激发学生主动参与、自我探索的意识和勇于\\创新的精神。};
\node[rt] (R4a3) at (1712,4225) {教学重点：};
\node[rt] (R4a3a) at (1796,4195) {1、通过观察、比较、分类等活动，了解梯形\\的特征，进一步认识平行四边形。};
\node[rt] (R4a3b) at (1796,4256) {2、知道长方形、正方形是特殊的平行四边形\\。};
\node[rt] (R4a4) at (1712,4311) {教学难点：};
\node[rt] (R4a4a) at (1796,4311) {知道长方形和正方形是特殊的平行四边形。};
\node[rt] (R4b) at (1629,4425) {二、说学情};
\node[rt] (R4b1) at (1712,4426) {四年级学生处于从低年级向高年级的转化阶段\\，有着强烈的好奇心，大部分学生思维灵活、\\动手能力强。通过三年的学习，学生已具有了\\一定的空间观念，但几何初步知识，无论是线\\、面、体的特征还是图形的特征和性质，对于\\四年级学生来讲，都比较抽象，也较难掌握。\\ 因此，在课堂上我努力为学生创设一系列活\\动，让学生在"做中学"，"做中悟"，"悟中创"\\，给予学生充分的探究时间，通过学生动手、\\动脑、动口等多层次的感知，多角度的思考，\\把四边形进行分类，概括出特征。};
\node[rt] (R4c) at (1629,4637) {三、说教法};
\node[rt] (R4c1) at (1712,4637) {《课程标准》明确指出：促进学生空间观念的\\发展是小学数学几何教学的重要任务。学生的\\生活实际和所接触的事物大都和空间与图形有\\关，他们的生活经验是发展空间观念的宝贵资\\源。根据中低年级学生的年龄特点和思维形\\式的由形象思维过渡到抽象思维的特点，本节\\课的教学我将运用直观的教具，调动学生多种\\感官参与知识的获取过程，将情景教学法、小\\组探究法、直观演示法和快乐教学法等有机地\\贯穿于数学的各个环节中，引导学生在感知的\\基础上加以抽象概括，激发学生的学习兴趣，\\鼓励学生积极发言和敢于质疑，引导学生自己\\动脑、动手、动口、动眼以及密室闯关等多种\\形式的巩固练习，使学生变苦学为乐学，把数\\学课上的有趣、有益、有效。};
\node[rt] (R4d) at (1629,4836) {四、说学法};
\node[rt] (R4d1) at (1712,4836) {达尔文曾说过："最有价值的知识是关于方法\\论的知识。"这充分说明了教给学生学习方法\\，培养学生学习能力的重要性。在教学过程中\\，以学生的学习为主，通过师生交流、合作探\\究、生生交流等活动，给学生充分的时间和机\\会，指导学生运用动手操作法、小组合作法、\\观察比较法、交流法来学习知识，努力做到教\\法、学法的组合，使全体学生都能主动参与探\\究新知识的过程。};
\node[rt] (R4e) at (1629,5036) {五、说教具准备和学具准备};
\node[rt] (R4e1) at (1787,4979) {课标强调："数学课程的设计与实施应根据实\\际情况合理的运用现代信息技术，要注意信息\\技术与课程内容的整合。"因此，为了体现这\\一理念，根据教学内容和学生实际，课堂教学\\中我主要采用多媒体课件辅助教学，增加了教\\学内容的直观性，突破了难点，同时也提高了\\课堂效益。};
\node[rt] (R4e2) at (1787,5094) {另外，根据本节课教学内容的要求和学生实际\\，我又准备了本节课所需要的12个图形、表\\示图形之间关系的集合图和学生练习环节所需\\的图形和剪刀，为教学过程的顺利进行做了充\\分的准备，提高了学生的学习水平。};
\node[rt] (R4f) at (1629,5701) {六、说教学过程};
\node[rt] (R4f1) at (1733,5701) {课程标准指出："数学课程应致力于实现义务\\教育阶段的培养目标，要面向全体学生，适应\\学生个性发展的需要，使得人人都能获得良好\\的数学教育，不同的人在数学上得到不同的发\\展。"根据课标理念和学生特点，我将本节课\\的教学过程设计成"激趣导课——探索新知—\\—巩固应用——课堂总结"四个环节。具体教\\学过程如下：};
\node[rt] (R4f1a) at (1978,5281) {1、激趣导课};
\node[rt] (R4f1a1) at (2067,5224) {多媒体显示四根不同长度的线段，问学生：用\\这四根线段你能围成一个什么图形?从而引出\\四边形的概念。紧接着出示各种四边形，让学\\生说出各个图形的名称，并且指出，无论是平\\行四边形还是梯形，都是四边形。告诉学生在\\四边形这个大家族里，你若仔细观察，会发现\\它们各有特点，从而引导学生发现四边形的特\\点，让学生明白这节课咱们就根据四边形边的\\特点给它们分类。(板书：四边形分类)};
\node[rt] (R4f1a2) at (2067,5340) {这样，赋于数学知识一定的情境，使学生对数\\学产生浓厚的兴趣和亲切感，促使学生主动地\\去探索。};
\node[rt] (R4f1b) at (1978,5576) {2、探究新知};
\node[rt] (R4f1b1) at (2067,5421) {(1)观察课前准备好的12个四边形，"观察-比\\较"是现代科学探索中常用方法，让学生观察\\四边形的边有什么特点，再进行比较，使学生\\从具体的实物中建立了丰富的表象。};
\node[rt] (R4f1b2) at (2067,5510) {(2)小组合作，在独立思考的基础上，组织学\\生进行合作交流，并分类摆放，再说一说你分\\类的依据是什么，这样让学生充分展示自己正\\确或错误的分类方法。};
\node[rt] (R4f1b3) at (2067,5624) {(3)反思评价，多媒体展示将12个图形分为三\\类的方法，让学生仔细观察每一组图形的对边\\的特点，从而概括出平行四边形和梯形的定义\\，引导学生明白长方形和正方形是特殊的平行\\四边形，师生共同概括分类的方法，同时利用\\集合图把抽象的数学知识形象化，便于学生理\\解和掌握，突出了本节课的重点，突破了教学\\难点，让学生从中体验成功的喜悦。};
\node[rt] (R4f1b4) at (2067,5734) {(4)欣赏生活中的四边形，让学生从中感悟数\\学知识与日常生活的关系，培养学生的应用意\\识。};
\node[rt] (R4f1c) at (1978,5883) {3、巩固应用。};
\node[rt] (R4f1c1) at (2078,5883) {为了巩固所学知识，发展学生的思维，我将练\\习环节与综艺节目"疯狂的麦咭"联系起来，带\\领学生进入密室闯关，设计了"抢答密室"(问\\学生下面的图形哪个是平行四边形?哪个是梯\\形?)"拼图密室"(下面哪两个图形能拼成长方\\形?哪两个图形能拼成平行四边形?哪两个图形\\能拼成梯形?)和"魔术密室"(让学生用剪刀动\\手操作，只剪一刀，将告诉的三角形、平行四\\边形和长方形剪成不同的两个图形)，这三个\\习题的设计，既巩固了本节课所学的知识，又\\培养了学生的动手、动脑能力，让不同层次的\\学生都有所收获，体现了"不同的人在数学上\\得到不同的发展，人人都获得成功的体验"的\\理念。};
\node[rt] (R4f1d) at (1978,6121) {4、课堂总结};
\node[rt] (R4f1d1) at (2067,6061) {这一环节我设计了两个问题：(1)这节课你有\\什么收获?让学生总结本节课你所学到的知识\\。通过学生自主总结梳理知识，充分发挥学\\生学习的主体作用。(2)你觉得自己这节课表\\现如何?让学生学会评价，激励学生各方面能\\力的提高，帮助学生认识自我，建立学习的信\\心。};
\node[rt] (R4f1d2) at (2067,6183) {总之，本节课的设计能充分利用多媒体课件，\\开发并向学生提供丰富的学习资源，吧现代信\\息技术作为学生学习数学和解决问题的有力工\\具，激发学生学习的积极性，使学生乐意投入\\到探索性的数学活动中来，体现了学生才是学\\习的主体。};
\node[rt] (R4g) at (1629,6313) {七、说板书设计};
\node[rt] (R4g1) at (1733,6313) {板书是一节课教学内容的体现，为了突出本节\\课的教学内容，我将标题《四边形分类》醒目\\的写在黑板上方的正中间，在标题的下方将平\\行四边形和梯形的定义准确的书写出来，并将\\四边形、平行四边形与梯形的关系用集合图的\\形式展示在定义的下面。整个板书的设计突出\\了本节课的重点和难点，给人直观、醒目的感\\觉。};
\draw[rl] (R4.east) to (R4a.west);
\draw[rl] (R4.east) to (R4b.west);
\draw[rl] (R4.east) to (R4c.west);
\draw[rl] (R4.east) to (R4d.west);
\draw[rl] (R4.east) to (R4e.west);
\draw[rl] (R4.east) to (R4f.west);
\draw[rl] (R4.east) to (R4g.west);
\draw[rl] (R4a.east) to (R4a1.west);
\draw[rl] (R4a.east) to (R4a2.west);
\draw[rl] (R4a.east) to (R4a3.west);
\draw[rl] (R4a.east) to (R4a4.west);
\draw[rl] (R4a2.east) to (R4a2a.west);
\draw[rl] (R4a2.east) to (R4a2b.west);
\draw[rl] (R4a2.east) to (R4a2c.west);
\draw[rl] (R4a3.east) to (R4a3a.west);
\draw[rl] (R4a3.east) to (R4a3b.west);
\draw[rl] (R4a4.east) to (R4a4a.west);
\draw[rl] (R4b.east) to (R4b1.west);
\draw[rl] (R4c.east) to (R4c1.west);
\draw[rl] (R4d.east) to (R4d1.west);
\draw[rl] (R4e.east) to (R4e1.west);
\draw[rl] (R4e.east) to (R4e2.west);
\draw[rl] (R4f.east) to (R4f1.west);
\draw[rl] (R4f1.east) to (R4f1a.west);
\draw[rl] (R4f1.east) to (R4f1b.west);
\draw[rl] (R4f1.east) to (R4f1c.west);
\draw[rl] (R4f1.east) to (R4f1d.west);
\draw[rl] (R4f1a.east) to (R4f1a1.west);
\draw[rl] (R4f1a.east) to (R4f1a2.west);
\draw[rl] (R4f1b.east) to (R4f1b1.west);
\draw[rl] (R4f1b.east) to (R4f1b2.west);
\draw[rl] (R4f1b.east) to (R4f1b3.west);
\draw[rl] (R4f1b.east) to (R4f1b4.west);
\draw[rl] (R4f1c.east) to (R4f1c1.west);
\draw[rl] (R4f1d.east) to (R4f1d1.west);
\draw[rl] (R4f1d.east) to (R4f1d2.west);
\draw[rl] (R4g.east) to (R4g1.west);

\node[rt] (R6a) at (1629,6408) {★ 最新人教版四年级数学上册教案2021例文};
\node[rt] (R6b) at (1629,6455) {★ 2021人教版小学四年级数学上册教案例文};
\node[rt] (R6c) at (1629,6502) {★ 最新四年级上册数学教案人教版例文};
\node[rt] (R6d) at (1629,6549) {★ 2021新人教版四年级数学上册教案范文};
\node[rt] (R6e) at (1629,6603) {★ 2021新人教版小学数学四年级上册教案范\\文};
\node[rt] (R6f) at (1629,6665) {★ 最新人教版小学四年级数学上册条形统计\\图教案例文};
\node[rt] (R6g) at (1629,6726) {★ 新人教版四年级上册数学教案辛此2021例\\文};
\node[rt] (R6h) at (1629,6780) {★ 新人教版四年级上册数学教案2021范文};
\node[rt] (R6i) at (1629,6827) {★ 新人教版四年级数学教案最新范文};
\node[rt] (R6j) at (1629,6881) {★ 最新人教版小学四年级数学上册第六单元\\教案例文};
\draw[rl] (R6.east) to (R6a.west);
\draw[rl] (R6.east) to (R6b.west);
\draw[rl] (R6.east) to (R6c.west);
\draw[rl] (R6.east) to (R6d.west);
\draw[rl] (R6.east) to (R6e.west);
\draw[rl] (R6.east) to (R6f.west);
\draw[rl] (R6.east) to (R6g.west);
\draw[rl] (R6.east) to (R6h.west);
\draw[rl] (R6.east) to (R6i.west);
\draw[rl] (R6.east) to (R6j.west);
\end{tikzpicture}
\end{document}
